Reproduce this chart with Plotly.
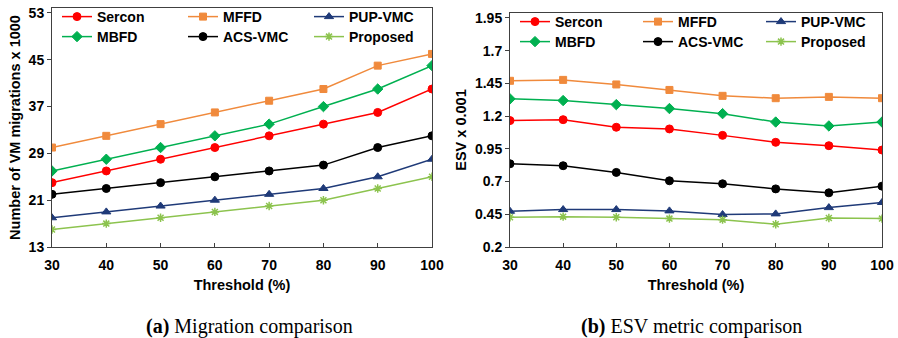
import plotly.graph_objects as go

thresholds = [30, 40, 50, 60, 70, 80, 90, 100]
series_names = ["Sercon", "MFFD", "PUP-VMC", "MBFD", "ACS-VMC", "Proposed"]

# (a) Number of VM migrations x 1000
mig_sercon = [24, 26, 28, 30, 32, 34, 36, 40]
mig_mffd = [30, 32, 34, 36, 38, 40, 44, 46]
mig_pup = [18, 19, 20, 21, 22, 23, 25, 28]
mig_mbfd = [26, 28, 30, 32, 34, 37, 40, 44]
mig_acs = [22, 23, 24, 25, 26, 27, 30, 32]
mig_proposed = [16, 17, 18, 19, 20, 21, 23, 25]

# (b) ESV x 0.001
esv_sercon = [1.166, 1.173, 1.115, 1.102, 1.053, 1.000, 0.974, 0.941]
esv_mffd = [1.470, 1.477, 1.442, 1.400, 1.355, 1.337, 1.347, 1.337]
esv_pup = [0.473, 0.486, 0.486, 0.476, 0.448, 0.453, 0.501, 0.540]
esv_mbfd = [1.332, 1.319, 1.288, 1.258, 1.219, 1.155, 1.125, 1.155]
esv_acs = [0.836, 0.821, 0.770, 0.706, 0.683, 0.644, 0.614, 0.665]
esv_proposed = [0.427, 0.432, 0.427, 0.417, 0.409, 0.374, 0.422, 0.417]

mig_ticks = [13, 21, 29, 37, 45, 53]
esv_ticks = [0.2, 0.45, 0.7, 0.95, 1.2, 1.45, 1.7, 1.95]
esv_tick_text = ["0.2", "0.45", "0.7", "0.95", "1.2", "1.45", "1.7", "1.95"]

colors = ["#FF0000", "#F08A3C", "#1F3A78", "#00B050", "#000000", "#8CC34E"]
symbols = ["circle", "square", "triangle-up", "diamond", "circle", "asterisk-open"]
msizes = [8, 7, 8, 8, 8, 7]

W, H = 898, 338
FONT = "Liberation Sans, Arial, sans-serif"
SERIF = "Liberation Serif, Times New Roman, serif"

mig_data = [mig_sercon, mig_mffd, mig_pup, mig_mbfd, mig_acs, mig_proposed]
esv_data = [esv_sercon, esv_mffd, esv_pup, esv_mbfd, esv_acs, esv_proposed]


def px_x(p):
    return p / W


def px_y(p):
    return 1 - p / H


# legend item pixel anchors (text start x, row centre y)
left_cols = [97, 223, 349]
left_rows = [17, 37]
right_cols = [555, 678, 801]
right_rows = [22, 42]

fig = go.Figure()
legend_layouts = {}
leg_idx = 0
for panel, (data, xa, ya, cols, rows) in enumerate([
        (mig_data, "x", "y", left_cols, left_rows),
        (esv_data, "x2", "y2", right_cols, right_rows)]):
    for i, name in enumerate(series_names):
        leg_idx += 1
        lname = "legend" if leg_idx == 1 else f"legend{leg_idx}"
        fig.add_trace(go.Scatter(
            x=thresholds, y=data[i], name=name, mode="lines+markers",
            line=dict(color=colors[i], width=1.5),
            marker=dict(symbol=symbols[i], size=msizes[i], color=colors[i],
                        line=dict(color=colors[i],
                                  width=1 if symbols[i] != "asterisk-open" else 1.5)),
            xaxis=xa, yaxis=ya, legend=lname,
        ))
        legend_layouts[lname] = dict(
            x=px_x(cols[i % 3] - 40), y=px_y(rows[i // 3]),
            xanchor="left", yanchor="middle", orientation="v",
            itemwidth=30, bgcolor="rgba(0,0,0,0)", borderwidth=0,
            font=dict(family=FONT, size=14, color="#000000", weight="bold"),
            itemclick=False, itemdoubleclick=False,
        )

axis_common = dict(
    showline=True, linecolor="#404040", linewidth=1, mirror=True,
    showgrid=False, zeroline=False,
    tickfont=dict(family=FONT, size=14, color="#000000", weight="bold"),
    tickcolor="#404040", ticklen=4,
)
title_font = dict(family=FONT, size=14.5, color="#000000", weight="bold")

fig.update_layout(
    width=W, height=H,
    margin=dict(l=0, r=0, t=0, b=0, autoexpand=False),
    paper_bgcolor="white", plot_bgcolor="white",
    showlegend=True,
    xaxis=dict(domain=[px_x(52), px_x(432)], range=[30, 100], tickvals=thresholds,
               anchor="y", ticks="inside", automargin=False, ticklabelstandoff=5,
               title=dict(text="Threshold (%)", standoff=8, font=title_font),
               **axis_common),
    yaxis=dict(domain=[px_y(247), px_y(8)], range=[13, 53.85], tickvals=mig_ticks,
               anchor="x", ticks="outside", automargin=False,
               title=dict(text="Number of VM migrations x 1000", standoff=4, font=title_font),
               **axis_common),
    xaxis2=dict(domain=[px_x(510), px_x(882)], range=[30, 100], tickvals=thresholds,
                anchor="y2", ticks="inside", automargin=False, ticklabelstandoff=5,
                title=dict(text="Threshold (%)", standoff=8, font=title_font),
                **axis_common),
    yaxis2=dict(domain=[px_y(247), px_y(13)], range=[0.2, 1.988], tickvals=esv_ticks,
                ticktext=esv_tick_text, anchor="x2", ticks="outside", automargin=False,
                title=dict(text="ESV x 0.001", standoff=4, font=title_font),
                **axis_common),
    **legend_layouts,
)

fig.add_annotation(text="<b>(a)</b> Migration comparison", x=px_x(249), y=px_y(326),
                   xref="paper", yref="paper", showarrow=False, xanchor="center", yanchor="middle",
                   font=dict(family=SERIF, size=20, color="#000000"))
fig.add_annotation(text="<b>(b)</b> ESV metric comparison", x=px_x(691), y=px_y(326),
                   xref="paper", yref="paper", showarrow=False, xanchor="center", yanchor="middle",
                   font=dict(family=SERIF, size=20, color="#000000"))

fig.write_html("out.html")
